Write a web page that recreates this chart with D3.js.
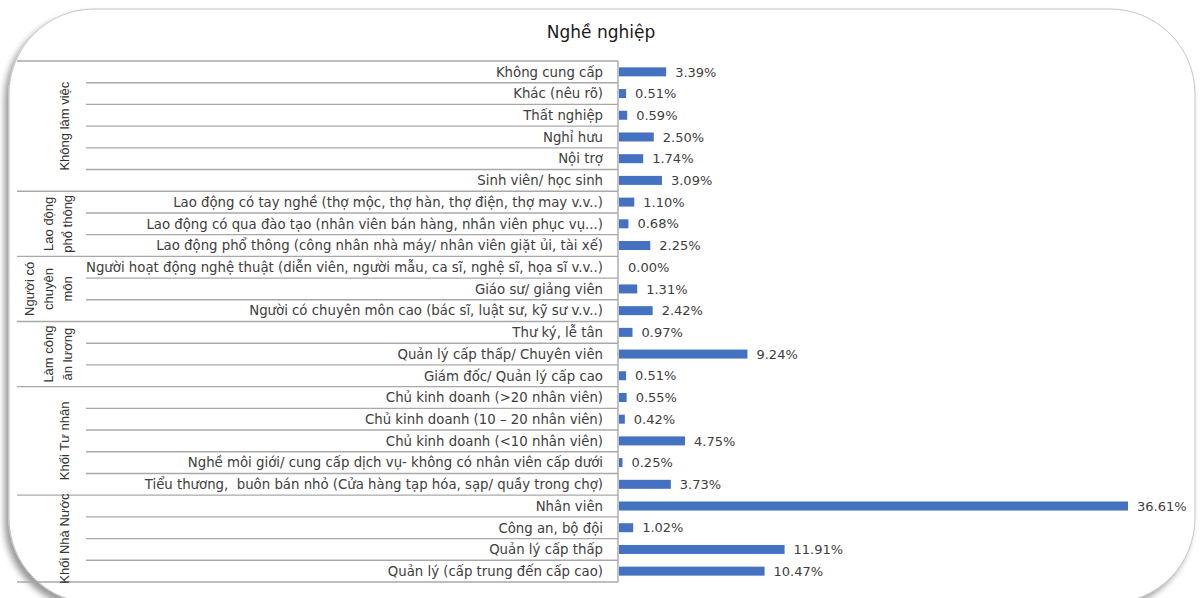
<!DOCTYPE html>
<html>
<head>
<meta charset="utf-8">
<script src="https://cdn.jsdelivr.net/npm/d3@7"></script>
<style>
  html, body { margin: 0; padding: 0; background: #fff; }
  svg { display: block; }
</style>
</head>
<body>
<svg id="chart" width="1200" height="598"></svg>
<script>
// Occupation breakdown (% of respondents)
const categories = [
  "Không cung cấp",
  "Khác (nêu rõ)",
  "Thất nghiệp",
  "Nghỉ hưu",
  "Nội trợ",
  "Sinh viên/ học sinh",
  "Lao động có tay nghề (thợ mộc, thợ hàn, thợ điện, thợ may v.v..)",
  "Lao động có qua đào tạo (nhân viên bán hàng, nhân viên phục vụ...)",
  "Lao động phổ thông (công nhân nhà máy/ nhân viên giặt ủi, tài xế)",
  "Người hoạt động nghệ thuật (diễn viên, người mẫu, ca sĩ, nghệ sĩ, họa sĩ v.v..)",
  "Giáo sư/ giảng viên",
  "Người có chuyên môn cao (bác sĩ, luật sư, kỹ sư v.v..)",
  "Thư ký, lễ tân",
  "Quản lý cấp thấp/ Chuyên viên",
  "Giám đốc/ Quản lý cấp cao",
  "Chủ kinh doanh (>20 nhân viên)",
  "Chủ kinh doanh (10 – 20 nhân viên)",
  "Chủ kinh doanh (<10 nhân viên)",
  "Nghề môi giới/ cung cấp dịch vụ- không có nhân viên cấp dưới",
  "Tiểu thương,  buôn bán nhỏ (Cửa hàng tạp hóa, sạp/ quầy trong chợ)",
  "Nhân viên",
  "Công an, bộ đội",
  "Quản lý cấp thấp",
  "Quản lý (cấp trung đến cấp cao)"
];

const values = [
  3.39, 0.51, 0.59, 2.50, 1.74, 3.09,
  1.10, 0.68, 2.25,
  0.00, 1.31, 2.42,
  0.97, 9.24, 0.51,
  0.55, 0.42, 4.75, 0.25, 3.73,
  36.61, 1.02, 11.91, 10.47
];

// Outer group labels (lines of text) and how many rows each spans
const groupNames = [
  ["Không làm việc"],
  ["Lao động", "phổ thông"],
  ["Người có", "chuyên", "môn"],
  ["Làm công", "ăn lương"],
  ["Khối Tư nhân"],
  ["Khối Nhà Nước"]
];
const groupSizes = [6, 3, 3, 3, 5, 4];

const title = "Nghề nghiệp";

const svg = d3.select("#chart");

// ---- card background with rounded corners and soft shadow ----
const defs = svg.append("defs");
const f = defs.append("filter").attr("id", "shadow")
  .attr("x", "-5%").attr("y", "-5%").attr("width", "110%").attr("height", "115%");
f.append("feDropShadow").attr("dx", -4).attr("dy", 5)
  .attr("stdDeviation", 3).attr("flood-color", "#000").attr("flood-opacity", 0.4);

svg.append("rect")
  .attr("x", 9).attr("y", 9).attr("width", 1186).attr("height", 594)
  .attr("rx", 85).attr("ry", 85)
  .attr("fill", "#fff").attr("stroke", "#c4c4c4").attr("stroke-width", 1)
  .attr("filter", "url(#shadow)");

// ---- layout ----
const axisX = 618;
const tableLeft = 17;
const rowLineLeft = 86;
const topY = 61, bottomY = 582;

const y = d3.scaleBand().domain(categories).range([topY, bottomY]);
const x = d3.scaleLinear().domain([0, d3.max(values)]).range([axisX + 1, 1128]);

const gridColor = "#a9a9a9";
const textColor = "#404040";
const labelFont = "DejaVu Sans, Verdana, sans-serif";

// title
svg.append("text")
  .attr("x", 601).attr("y", 38)
  .attr("text-anchor", "middle")
  .attr("font-family", labelFont)
  .attr("font-size", 17)
  .attr("fill", "#1a1a1a")
  .text(title);

// row separators (inner) and group separators (full width)
const groupStarts = [];
let acc = 0;
groupSizes.forEach(n => { groupStarts.push(acc); acc += n; });
const groupBoundaryIdx = new Set(groupStarts.concat([categories.length]));

const lines = svg.append("g").attr("stroke", gridColor).attr("stroke-width", 1.4);
for (let i = 0; i <= categories.length; i++) {
  const yy = i < categories.length ? y(categories[i]) : bottomY;
  const isGroup = groupBoundaryIdx.has(i);
  lines.append("line")
    .attr("x1", isGroup ? tableLeft : rowLineLeft)
    .attr("x2", axisX)
    .attr("y1", yy).attr("y2", yy);
}
// vertical axis line
lines.append("line")
  .attr("x1", axisX).attr("x2", axisX)
  .attr("y1", topY).attr("y2", bottomY);

// category labels
svg.append("g")
  .selectAll("text")
  .data(categories)
  .join("text")
  .attr("x", axisX - 15)
  .attr("y", d => y(d) + y.bandwidth() / 2)
  .attr("dy", "0.36em")
  .attr("text-anchor", "end")
  .attr("font-family", labelFont)
  .attr("font-size", 13.3)
  .attr("fill", textColor)
  .style("white-space", "pre")
  .text(d => d);

// group labels, rotated
const gl = svg.append("g");
groupNames.forEach((lineTexts, gi) => {
  const start = groupStarts[gi];
  const end = start + groupSizes[gi];
  const y0 = y(categories[start]);
  const y1 = end < categories.length ? y(categories[end]) : bottomY;
  const cy = (y0 + y1) / 2;
  const lh = 19;
  const n = lineTexts.length;
  // last line sits closest to the row labels
  lineTexts.forEach((t, li) => {
    const cx = 67 - (n - 1 - li) * lh + (n === 1 ? -3 : 0);
    gl.append("text")
      .attr("transform", `translate(${cx},${cy}) rotate(-90)`)
      .attr("text-anchor", "middle")
      .attr("dy", "0.36em")
      .attr("font-family", "Liberation Sans, Arial, sans-serif")
      .attr("font-size", 13)
      .attr("fill", "#333")
      .text(t);
  });
});

// bars
const barH = 9;
svg.append("g")
  .selectAll("rect")
  .data(values)
  .join("rect")
  .attr("x", x(0))
  .attr("y", (d, i) => y(categories[i]) + y.bandwidth() / 2 - barH / 2)
  .attr("width", d => x(d) - x(0))
  .attr("height", barH)
  .attr("fill", "#4472c0");

// value labels
svg.append("g")
  .selectAll("text")
  .data(values)
  .join("text")
  .attr("x", d => x(d) + 9)
  .attr("y", (d, i) => y(categories[i]) + y.bandwidth() / 2)
  .attr("dy", "0.36em")
  .attr("font-family", labelFont)
  .attr("font-size", 13)
  .attr("fill", textColor)
  .text(d => d.toFixed(2) + "%");
</script>
</body>
</html>
